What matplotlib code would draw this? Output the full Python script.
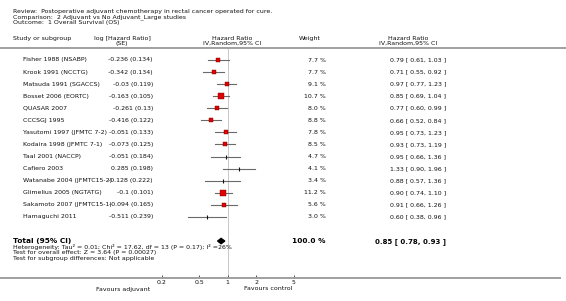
import numpy as np
import matplotlib
matplotlib.use("Agg")
import matplotlib.pyplot as plt
from matplotlib.transforms import blended_transform_factory
from matplotlib.lines import Line2D

# Forest plot data (RevMan style)
studies = ["Fisher 1988 (NSABP)", "Krook 1991 (NCCTG)", "Matsuda 1991 (SGACCS)",
           "Bosset 2006 (EORTC)", "QUASAR 2007", "CCCSGJ 1995",
           "Yasutomi 1997 (JFMTC 7-2)", "Kodaira 1998 (JFMTC 7-1)", "Taal 2001 (NACCP)",
           "Cafiero 2003", "Watanabe 2004 (JFMTC15-2)", "Glimelius 2005 (NGTATG)",
           "Sakamoto 2007 (JFMTC15-1)", "Hamaguchi 2011"]
log_hr = [-0.236, -0.342, -0.03, -0.163, -0.261, -0.416, -0.051, -0.073,
          -0.051, 0.285, -0.128, -0.1, -0.094, -0.511]
se = [0.134, 0.134, 0.119, 0.105, 0.13, 0.122, 0.133, 0.125,
      0.184, 0.198, 0.222, 0.101, 0.165, 0.239]
weight = [7.7, 7.7, 9.1, 10.7, 8.0, 8.8, 7.8, 8.5, 4.7, 4.1, 3.4, 11.2, 5.6, 3.0]
hr = [0.79, 0.71, 0.97, 0.85, 0.77, 0.66, 0.95, 0.93, 0.95, 1.33, 0.88, 0.90, 0.91, 0.60]
hr_lo = [0.61, 0.55, 0.77, 0.69, 0.60, 0.52, 0.73, 0.73, 0.66, 0.90, 0.57, 0.74, 0.66, 0.38]
hr_hi = [1.03, 0.92, 1.23, 1.04, 0.99, 0.84, 1.23, 1.19, 1.36, 1.96, 1.36, 1.10, 1.26, 0.96]
total_hr, total_lo, total_hi = 0.85, 0.78, 0.93
total_weight = 100.0
xticks = [0.2, 0.5, 1, 2, 5]

W, H = 566, 301
fig = plt.figure(figsize=(W / 100, H / 100), dpi=100)
plt.rcParams['font.family'] = 'DejaVu Sans'

def fx(px):
    return px / W

def fy(py):
    return 1 - py / H

FS = 4.5
TXT = '#111111'

# forest axes: 0.2..5 spans px 162..293.5, rows from y=48 to y=277.7
top_px, bot_px = 48, 277.7
row0, step = 60, 12.07
ax = fig.add_axes([fx(162), fy(bot_px), fx(293.5) - fx(162), (bot_px - top_px) / H])
ax.set_xscale('log')
ax.set_xlim(0.2, 5)
ax.set_ylim((bot_px - row0) / step, (top_px - row0) / step)
for s in ax.spines.values():
    s.set_visible(False)
ax.patch.set_visible(False)
ax.set_yticks([])
ax.set_xticks(xticks)
ax.set_xticklabels([str(t) for t in xticks])
ax.xaxis.set_minor_locator(matplotlib.ticker.NullLocator())
ax.tick_params(axis='x', direction='in', length=2, width=0.6, color='#333333',
               labelsize=FS, labelcolor=TXT, pad=1.5)
ax.axvline(1, color='#c8c8c8', lw=0.7, zorder=0)

rows = np.arange(len(studies))
for i in rows:
    ax.plot([hr_lo[i], hr_hi[i]], [i, i], color='#6a6a6a', lw=0.8, zorder=2)
    if weight[i] >= 5:
        ax.plot(hr[i], i, marker='s', ms=1.5 + weight[i] * 0.2, color='#e00000',
                mec='#700000', mew=0.3, zorder=3)
    else:
        ax.plot(hr[i], i, marker='|', ms=3.2, mew=0.8, color='#111111', zorder=3)

total_row = 15
dh = 0.22
ax.fill([total_lo, total_hr, total_hi, total_hr],
        [total_row, total_row - dh, total_row, total_row + dh], color='black', zorder=3)

# horizontal rules
fig.add_artist(Line2D([0, 1], [fy(48), fy(48)], color='#a0a0a0', lw=1.4))
fig.add_artist(Line2D([0, fx(560)], [fy(bot_px), fy(bot_px)], color='#a0a0a0', lw=1.4))

# title block
fig.text(fx(13), fy(11.7), "Review:  Postoperative adjuvant chemotherapy in rectal cancer operated for cure.",
         fontsize=FS, color=TXT, va='center')
fig.text(fx(13), fy(17), "Comparison:  2 Adjuvant vs No Adjuvant_Large studies",
         fontsize=FS, color=TXT, va='center')
fig.text(fx(13), fy(22.7), "Outcome:  1 Overall Survival (OS)",
         fontsize=FS, color=TXT, va='center')

# column headers
fig.text(fx(13), fy(38.5), "Study or subgroup", fontsize=FS, color=TXT, va='center')
fig.text(fx(122), fy(38.5), "log [Hazard Ratio]", fontsize=FS, color=TXT, va='center', ha='center')
fig.text(fx(122), fy(43.5), "(SE)", fontsize=FS, color=TXT, va='center', ha='center')
fig.text(fx(232), fy(38.5), "Hazard Ratio", fontsize=FS, color=TXT, va='center', ha='center')
fig.text(fx(232), fy(43.5), "IV,Random,95% CI", fontsize=FS, color=TXT, va='center', ha='center')
fig.text(fx(310), fy(38.5), "Weight", fontsize=FS, color=TXT, va='center', ha='center')
fig.text(fx(408), fy(38.5), "Hazard Ratio", fontsize=FS, color=TXT, va='center', ha='center')
fig.text(fx(408), fy(43.5), "IV,Random,95% CI", fontsize=FS, color=TXT, va='center', ha='center')

# study rows
tr = blended_transform_factory(fig.transFigure, ax.transData)
for i in rows:
    fig.text(fx(23), i, studies[i], transform=tr, fontsize=FS, color=TXT, va='center')
    fig.text(fx(153), i, f"{log_hr[i]:g} ({se[i]:g})", transform=tr, fontsize=FS,
             color=TXT, va='center', ha='right')
    fig.text(fx(326), i, f"{weight[i]:.1f} %", transform=tr, fontsize=FS,
             color=TXT, va='center', ha='right')
    fig.text(fx(446), i, f"{hr[i]:.2f} [ {hr_lo[i]:.2f}, {hr_hi[i]:.2f} ]", transform=tr,
             fontsize=FS, color=TXT, va='center', ha='right')

# total row
fig.text(fx(13), total_row, "Total (95% CI)", transform=tr, fontsize=5.3,
         fontweight='bold', color='black', va='center')
fig.text(fx(326), total_row, f"{total_weight:.1f} %", transform=tr, fontsize=5.3,
         fontweight='bold', color='black', va='center', ha='right')
fig.text(fx(446), total_row, f"{total_hr:.2f} [ {total_lo:.2f}, {total_hi:.2f} ]",
         transform=tr, fontsize=5.0, fontweight='bold', color='black', va='center', ha='right')

fig.text(fx(13), fy(246.8),
         "Heterogeneity: Tau\u00b2 = 0.01; Chi\u00b2 = 17.62, df = 13 (P = 0.17); I\u00b2 =26%",
         fontsize=FS, color=TXT, va='center')
fig.text(fx(13), fy(252.7), "Test for overall effect: Z = 3.64 (P = 0.00027)",
         fontsize=FS, color=TXT, va='center')
fig.text(fx(13), fy(258.7), "Test for subgroup differences: Not applicable",
         fontsize=FS, color=TXT, va='center')

fig.text(fx(123), fy(289), "Favours adjuvant", fontsize=FS, color=TXT, va='center', ha='center')
fig.text(fx(268), fy(289), "Favours control", fontsize=FS, color=TXT, va='center', ha='center')

fig.savefig('out.png', dpi=100)
